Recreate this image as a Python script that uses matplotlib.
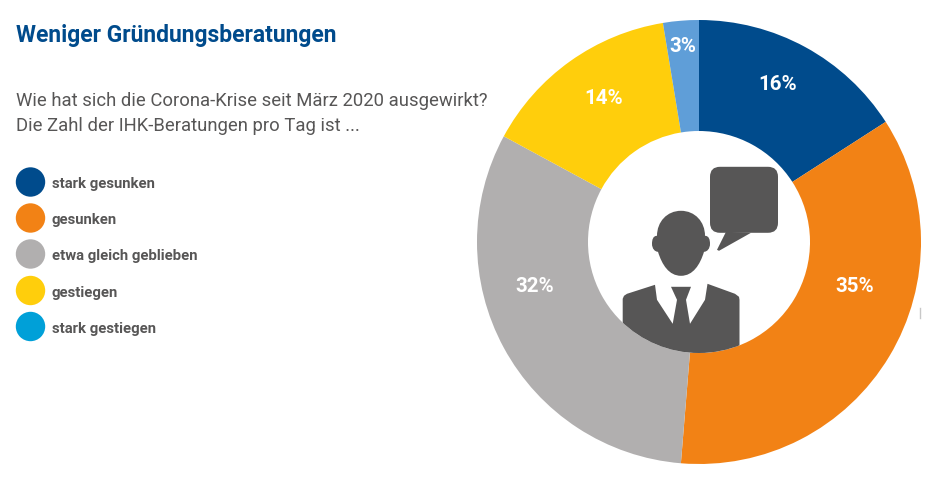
import matplotlib
matplotlib.use("Agg")
import matplotlib.pyplot as plt
from matplotlib.patches import Circle, FancyBboxPatch, Polygon, PathPatch
from matplotlib.path import Path
from matplotlib.transforms import Affine2D

categories = ["stark gesunken", "gesunken", "etwa gleich geblieben", "gestiegen", "stark gestiegen"]
values = [15.9, 35.4, 31.6, 14.5, 2.6]
value_labels = ["16%", "35%", "32%", "14%", "3%"]
slice_colors = ["#004B8C", "#F28215", "#B1AFAF", "#FFCE0C", "#5F9ED8"]
legend_colors = ["#004B8C", "#F28215", "#B1AFAF", "#FFCE0C", "#00A0D8"]
title = "Weniger Gründungsberatungen"
question = ["Wie hat sich die Corona-Krise seit März 2020 ausgewirkt?",
            "Die Zahl der IHK-Beratungen pro Tag ist ..."]

W, H = 941, 489
DARK = "#575656"
FONT = "Roboto"
fig = plt.figure(figsize=(W / 100, H / 100), dpi=100, facecolor="white")

# Donut
CX, CY, R = 699, 243, 222
side = 2 * R * 1.25
ax_pie = fig.add_axes([(CX - side / 2) / W, 1 - (CY + side / 2) / H, side / W, side / H])
ax_pie.pie(values, colors=slice_colors, startangle=90, counterclock=False, radius=1,
           wedgeprops=dict(width=0.5, linewidth=0))

# Overlay in pixel coordinates
ax = fig.add_axes([0, 0, 1, 1], facecolor="none")
ax.set_xlim(0, W)
ax.set_ylim(H, 0)
ax.axis("off")

ax.text(16, 35.5, title, color="#004B8C", fontsize=16.45, fontweight="bold", family=FONT, va="center")
for y, line in zip([100.5, 126], question):
    ax.text(16, y, line, color=DARK, fontsize=13.3, family=FONT, va="center")

for y, c, label in zip([183.5, 219.5, 255.5, 292, 328], legend_colors, categories):
    ax.add_patch(Circle((30.5, y - 0.5), 14.7, fc=c, ec="none"))
    ax.text(52, y + 0.5, label, color=DARK, fontsize=10.7, fontweight="bold", family=FONT, va="center")

for (x, y), t in zip([(777.5, 84.5), (855, 286), (535, 286), (604, 99), (683, 47)], value_labels):
    ax.text(x, y, t, color="white", fontsize=14.8, fontweight="bold", family=FONT,
            ha="center", va="center")

# Icon
shift = Affine2D().translate(0, 0.8) + ax.transData
ax.add_patch(FancyBboxPatch((718, 175), 52, 50, boxstyle="round,pad=8,rounding_size=10", fc=DARK, ec="none",
                            transform=shift))
ax.add_patch(Polygon([(726, 232), (717, 250), (719, 251), (751, 233)], fc=DARK, ec="none", transform=shift))

head = Path(
    [(657, 236), (657, 222), (667, 211), (681, 211), (695, 211), (705, 222), (705, 236),
     (709, 236), (710, 240), (710, 244), (710, 249), (707, 252), (704, 252),
     (700, 265), (693, 276), (681, 276), (669, 276), (662, 265), (658, 252),
     (655, 252), (652, 249), (652, 244), (652, 240), (653, 236), (657, 236)],
    [Path.MOVETO] + [Path.CURVE4] * 24)
ax.add_patch(PathPatch(head, fc=DARK, ec="none", transform=shift))

hole = Circle((CX, CY), R / 2, fc="none", ec="none")
ax.add_patch(hole)
body = Polygon([(622.7, 360), (622.7, 299), (624, 296), (627, 294), (655, 285), (657, 300),
                (672.7, 324), (677, 300), (671, 287), (691, 287), (686, 300), (690, 324),
                (705, 300), (707.5, 284), (735, 294), (739, 297), (739.5, 300), (739.5, 360)],
               fc=DARK, ec="none", transform=shift)
ax.add_patch(body)
body.set_clip_path(hole)

# Stray tick at the right edge
ax.plot([920.5, 920.5], [309, 319], color="#C8C8C8", lw=1)

fig.savefig("out.png", dpi=100)
